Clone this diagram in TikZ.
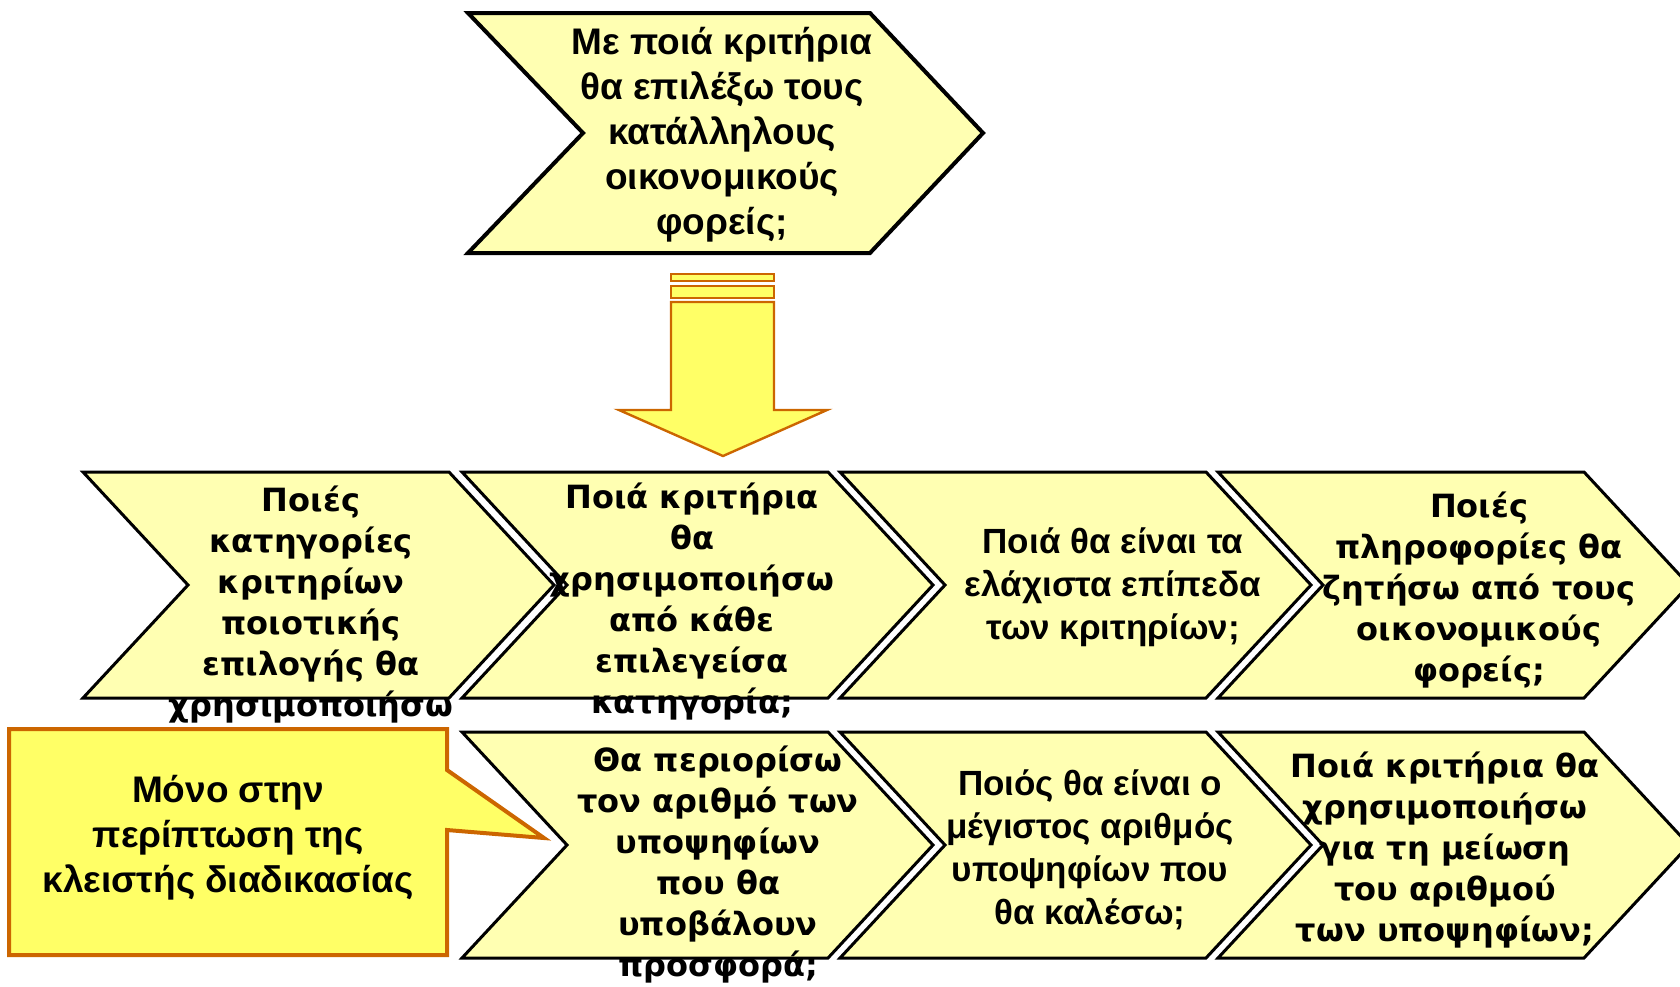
\documentclass[tikz,border=0pt]{standalone}
\usepackage{fontspec}
\setmainfont{Liberation Sans}
\newfontfamily\heavyfont{DejaVu Sans Bold}
\definecolor{paleyellow}{RGB}{255,255,178}
\definecolor{noteyellow}{RGB}{255,255,102}
\definecolor{noteorange}{RGB}{204,102,0}

\begin{document}
\begin{tikzpicture}[x = 0.5pt, y = -0.5pt, chev/.style = {fill = paleyellow, draw = black, line width = 1.5pt, preaction = {draw = white, line width = 5pt}}, heavy/.style = {align = center, font = \heavyfont\fontsize{16}{20.5}\selectfont}, plain/.style = {align = center, font = \bfseries\fontsize{17.5}{21.5}\selectfont}, big/.style = {align = center, font = \bfseries\fontsize{18.5}{22.5}\selectfont}, blockarrow/.style = {fill = noteyellow, draw = noteorange, line width = 1.2pt}, note/.style = {fill = noteyellow, draw = noteorange, line width = 2pt}]
    \useasboundingbox (0,0) rectangle (1680,986);
    \draw[chev, line width = 2pt] (468,13) -- (870,13) -- (983,133) -- (870,253) -- (468,253) -- (583,133) -- cycle;
    \node[big] (top) at (722,135) {Με ποιά κριτήρια\\θα επιλέξω τους\\κατάλληλους\\οικονομικούς\\φορείς;};
    \draw[blockarrow] (671,274) rectangle (774,281);
    \draw[blockarrow] (671,286) rectangle (774,298);
    \draw[blockarrow] (671,302) -- (774,302) -- (774,410) -- (827,410) -- (723,456) -- (619,410) -- (671,410) -- cycle;
    \foreach \x/\y in {83/472, 462/472, 840/472, 1218/472, 462/732, 840/732, 1218/732}
        \draw[chev] (\x,\y) -- ++(366,0) -- ++(105,113) -- ++(-105,113) -- ++(-366,0) -- ++(105,-113) -- cycle;
    \node[heavy] (c1) at (311,605) {Ποιές\\κατηγορίες\\κριτηρίων\\ποιοτικής\\επιλογής θα\\χρησιμοποιήσω};
    \node[heavy] (c2) at (692,602) {Ποιά κριτήρια\\θα\\χρησιμοποιήσω\\από κάθε\\επιλεγείσα\\κατηγορία;};
    \node[plain] (c3) at (1113,587) {Ποιά θα είναι τα\\ελάχιστα επίπεδα\\των κριτηρίων;};
    \node[heavy] (c4) at (1479,590) {Ποιές\\πληροφορίες θα\\ζητήσω από τους\\οικονομικούς\\φορείς;};
    \node[heavy] (c5) at (718,865) {Θα περιορίσω\\τον αριθμό των\\υποψηφίων\\που θα\\υποβάλουν\\προσφορά;};
    \node[plain] (c6) at (1090,850) {Ποιός θα είναι ο\\μέγιστος αριθμός\\υποψηφίων που\\θα καλέσω;};
    \node[heavy] (c7) at (1445,850) {Ποιά κριτήρια θα\\χρησιμοποιήσω\\για τη μείωση\\του αριθμού\\των υποψηφίων;};
    \draw[note] (9,729) -- (447,729) -- (447,770) -- (544,838) -- (447,830) -- (447,955) -- (9,955) -- cycle;
    \node[big] (only) at (228,838) {Μόνο στην\\περίπτωση της\\κλειστής διαδικασίας};
\end{tikzpicture}
\end{document}
